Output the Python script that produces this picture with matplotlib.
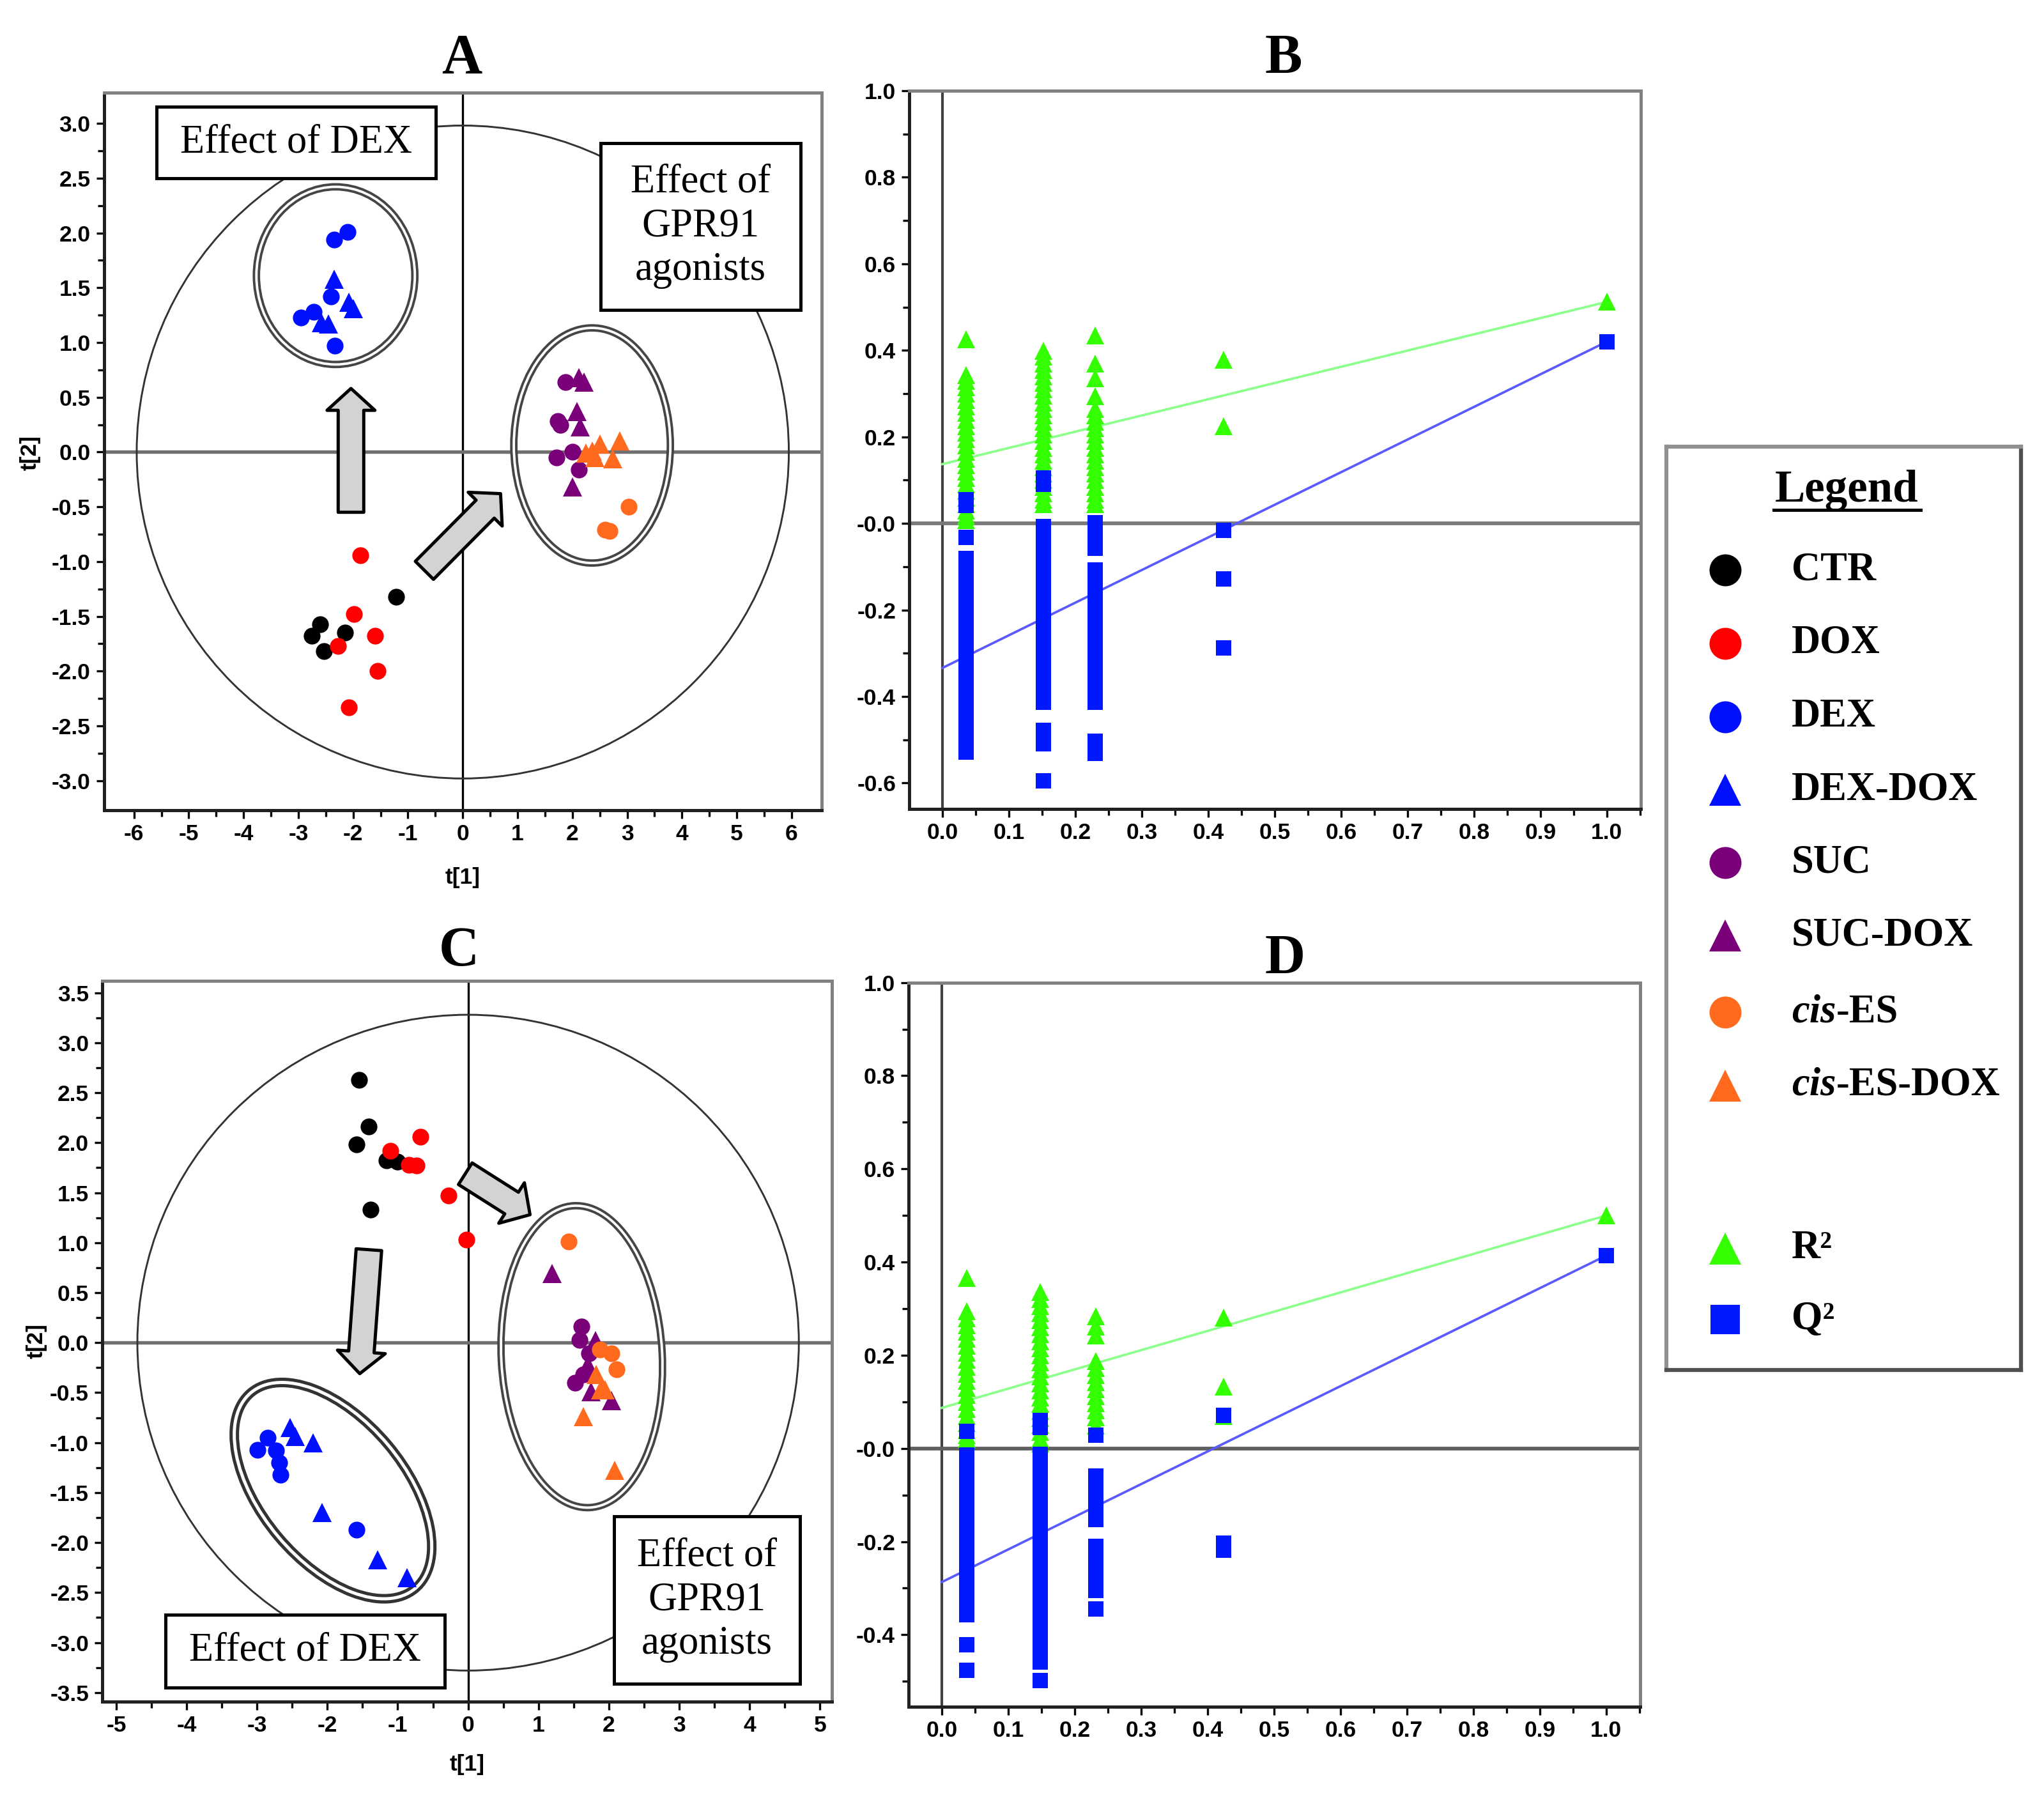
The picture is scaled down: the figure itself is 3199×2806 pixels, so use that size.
import matplotlib
matplotlib.use("Agg")
import matplotlib.pyplot as plt
import matplotlib.transforms as mtransforms
from matplotlib.patches import Ellipse, Rectangle

# ------------------------------
# DATA
# ------------------------------
# score plot A : t[1], t[2]
a_ctr_t1 = [-1.22, -2.60, -2.75, -2.15, -2.53]
a_ctr_t2 = [-1.32, -1.57, -1.68, -1.65, -1.82]
a_dox_t1 = [-1.87, -1.98, -1.60, -2.28, -1.55, -2.08]
a_dox_t2 = [-0.94, -1.48, -1.68, -1.77, -2.00, -2.33]
a_dex_t1 = [-2.10, -2.35, -2.41, -2.95, -2.72, -2.33]
a_dex_t2 = [2.01, 1.94, 1.42, 1.23, 1.28, 0.97]
a_dexdox_t1 = [-2.35, -2.08, -2.00, -2.58, -2.45]
a_dexdox_t2 = [1.58, 1.37, 1.31, 1.18, 1.17]
a_suc_t1 = [1.88, 1.73, 1.78, 1.71, 2.00, 2.12]
a_suc_t2 = [0.64, 0.28, 0.25, -0.05, 0.00, -0.16]
a_sucdox_t1 = [2.12, 2.21, 2.08, 2.14, 2.00]
a_sucdox_t2 = [0.68, 0.64, 0.37, 0.23, -0.32]
a_cis_t1 = [3.03, 2.60, 2.68]
a_cis_t2 = [-0.50, -0.71, -0.72]
a_cisdox_t1 = [2.25, 2.50, 2.41, 2.74, 2.87, 2.36]
a_cisdox_t2 = [-0.01, 0.07, -0.05, -0.06, 0.10, 0.01]

# score plot C : t[1], t[2]
c_ctr_t1 = [-1.55, -1.41, -1.59, -1.16, -1.00, -1.39]
c_ctr_t2 = [2.63, 2.16, 1.98, 1.82, 1.81, 1.33]
c_dox_t1 = [-0.68, -1.10, -0.84, -0.73, -0.28, -0.02]
c_dox_t2 = [2.06, 1.92, 1.78, 1.77, 1.47, 1.03]
c_dex_t1 = [-2.85, -2.99, -2.73, -2.68, -2.67, -1.59]
c_dex_t2 = [-0.95, -1.07, -1.08, -1.20, -1.32, -1.87]
c_dexdox_t1 = [-2.53, -2.46, -2.20, -2.08, -1.29, -0.87]
c_dexdox_t2 = [-0.85, -0.94, -1.00, -1.70, -2.17, -2.35]
c_suc_t1 = [1.61, 1.58, 1.72, 1.64, 1.52]
c_suc_t2 = [0.16, 0.03, -0.11, -0.32, -0.40]
c_sucdox_t1 = [1.19, 1.81, 1.75, 2.04, 1.70]
c_sucdox_t2 = [0.69, 0.02, -0.49, -0.58, -0.22]
c_cis_t1 = [1.43, 1.87, 2.04, 2.11]
c_cis_t2 = [1.01, -0.07, -0.11, -0.27]
c_cisdox_t1 = [1.82, 1.88, 1.64, 2.08, 1.95]
c_cisdox_t2 = [-0.32, -0.47, -0.74, -1.28, -0.47]

# permutation test B
b_perm_x = [0.036, 0.152, 0.230, 0.423, 1.0]
b_r2_1 = [0.426, 0.343, 0.33, 0.315, 0.30, 0.285, 0.27, 0.255, 0.24, 0.225, 0.21, 0.195, 0.18,
          0.165, 0.15, 0.135, 0.12, 0.105, 0.09, 0.075, 0.06, 0.045, 0.03, 0.018, 0.008]
b_r2_2 = [0.399, 0.385, 0.37, 0.355, 0.34, 0.325, 0.31, 0.295, 0.28, 0.265, 0.25, 0.235, 0.22,
          0.205, 0.19, 0.175, 0.16, 0.145, 0.13, 0.115, 0.10, 0.085, 0.07, 0.055, 0.045]
b_r2_3 = [0.435, 0.37, 0.336, 0.294, 0.265, 0.25, 0.235, 0.22, 0.205, 0.19, 0.175, 0.16, 0.145,
          0.13, 0.115, 0.10, 0.085, 0.07, 0.055, 0.045]
b_r2_4 = [0.378, 0.225]
b_r2_5 = [0.512]
b_q2_1 = [0.055, 0.042, -0.032, -0.081, -0.10, -0.12, -0.14, -0.16, -0.18, -0.20, -0.22, -0.24,
          -0.26, -0.28, -0.30, -0.32, -0.34, -0.36, -0.38, -0.40, -0.42, -0.44, -0.46, -0.48,
          -0.50, -0.515, -0.528]
b_q2_2 = [0.105, 0.09, -0.007, -0.027, -0.047, -0.067, -0.087, -0.107, -0.127, -0.147, -0.167,
          -0.187, -0.207, -0.227, -0.247, -0.267, -0.287, -0.307, -0.327, -0.347, -0.367, -0.387,
          -0.40, -0.414, -0.478, -0.495, -0.509, -0.595]
b_q2_3 = [0.001, -0.02, -0.04, -0.057, -0.108, -0.128, -0.148, -0.168, -0.188, -0.208, -0.228,
          -0.248, -0.268, -0.288, -0.308, -0.328, -0.348, -0.368, -0.388, -0.40, -0.414, -0.504,
          -0.518, -0.532]
b_q2_4 = [-0.016, -0.129, -0.288]
b_q2_5 = [0.42]
b_r2_intercept = 0.137
b_q2_intercept = -0.334

# permutation test D
d_perm_x = [0.038, 0.148, 0.232, 0.424, 1.0]
d_r2_1 = [0.366, 0.295, 0.28, 0.265, 0.25, 0.235, 0.22, 0.205, 0.19, 0.175, 0.16, 0.145, 0.13,
          0.115, 0.10, 0.085, 0.07, 0.055, 0.04, 0.028, 0.02]
d_r2_2 = [0.336, 0.32, 0.305, 0.29, 0.275, 0.26, 0.245, 0.23, 0.215, 0.20, 0.185, 0.17, 0.155,
          0.14, 0.125, 0.11, 0.095, 0.08, 0.065, 0.05, 0.035, 0.02, 0.01]
d_r2_3 = [0.284, 0.262, 0.243, 0.187, 0.172, 0.157, 0.142, 0.127, 0.112, 0.097, 0.082, 0.067, 0.049]
d_r2_4 = [0.281, 0.133, 0.07]
d_r2_5 = [0.50]
d_q2_1 = [0.036, -0.014, -0.034, -0.054, -0.074, -0.094, -0.114, -0.134, -0.154, -0.174, -0.194,
          -0.214, -0.234, -0.254, -0.274, -0.294, -0.314, -0.334, -0.357, -0.422, -0.476]
d_q2_2 = [0.06, 0.045, -0.013, -0.033, -0.053, -0.073, -0.093, -0.113, -0.133, -0.153, -0.173,
          -0.193, -0.213, -0.233, -0.253, -0.273, -0.293, -0.313, -0.333, -0.353, -0.373, -0.393,
          -0.413, -0.433, -0.459, -0.498]
d_q2_3 = [0.029, -0.059, -0.08, -0.10, -0.12, -0.137, -0.152, -0.21, -0.23, -0.25, -0.27, -0.29,
          -0.305, -0.345]
d_q2_4 = [0.071, -0.203, -0.218]
d_q2_5 = [0.414]
d_r2_intercept = 0.087
d_q2_intercept = -0.287

# tick labels
a_xticks = [-6, -5, -4, -3, -2, -1, 0, 1, 2, 3, 4, 5, 6]
a_yticks = [-3.0, -2.5, -2.0, -1.5, -1.0, -0.5, 0.0, 0.5, 1.0, 1.5, 2.0, 2.5, 3.0]
c_xticks = [-5, -4, -3, -2, -1, 0, 1, 2, 3, 4, 5]
c_yticks = [-3.5, -3.0, -2.5, -2.0, -1.5, -1.0, -0.5, 0.0, 0.5, 1.0, 1.5, 2.0, 2.5, 3.0, 3.5]
perm_xticks = [0.0, 0.1, 0.2, 0.3, 0.4, 0.5, 0.6, 0.7, 0.8, 0.9, 1.0]
b_yticks = [-0.6, -0.4, -0.2, 0.0, 0.2, 0.4, 0.6, 0.8, 1.0]
b_ylabels = ["-0.6", "-0.4", "-0.2", "-0.0", "0.2", "0.4", "0.6", "0.8", "1.0"]
d_yticks = [-0.4, -0.2, 0.0, 0.2, 0.4, 0.6, 0.8, 1.0]
d_ylabels = ["-0.4", "-0.2", "-0.0", "0.2", "0.4", "0.6", "0.8", "1.0"]

legend_labels = ["CTR", "DOX", "DEX", "DEX-DOX", "SUC", "SUC-DOX", "cis-ES", "cis-ES-DOX"]

# ------------------------------
# STYLE
# ------------------------------
BLACK = "#000000"
RED = "#ff0000"
BLUE = "#0010ff"
PURPLE = "#7a007a"
ORANGE = "#ff6a1f"
GREEN = "#33ff00"
SQBLUE = "#0018ff"
SERIF = ["Liberation Serif", "DejaVu Serif"]
DPI = 300

plt.rcParams["font.family"] = ["Liberation Sans", "DejaVu Sans"]
plt.rcParams["font.weight"] = "bold"
plt.rcParams["xtick.major.size"] = 3
plt.rcParams["ytick.major.size"] = 3
plt.rcParams["xtick.minor.size"] = 2.5
plt.rcParams["ytick.minor.size"] = 2.5
plt.rcParams["xtick.major.width"] = 0.8
plt.rcParams["ytick.major.width"] = 0.8
plt.rcParams["xtick.minor.width"] = 0.8
plt.rcParams["ytick.minor.width"] = 0.8
plt.rcParams["xtick.labelsize"] = 8.5
plt.rcParams["ytick.labelsize"] = 8.5

fig = plt.figure(figsize=(3199 / DPI, 2806 / DPI), dpi=DPI)

ax_a = fig.add_axes([0.0508, 0.5481, 0.3512, 0.4002])
ax_b = fig.add_axes([0.4448, 0.5488, 0.3579, 0.4006])
ax_c = fig.add_axes([0.0500, 0.0510, 0.3570, 0.4020])
ax_d = fig.add_axes([0.4445, 0.0480, 0.3579, 0.4040])


def frame(ax):
    for side in ["left", "bottom"]:
        ax.spines[side].set_color("#202020")
        ax.spines[side].set_linewidth(1.2)
    for side in ["top", "right"]:
        ax.spines[side].set_color("#808080")
        ax.spines[side].set_linewidth(1.2)
    ax.tick_params(which="both", direction="out", pad=2)


def pts(ax, xs, ys, color, marker):
    ms = 7 if marker == "^" else 6.3
    ax.plot(xs, ys, ls="none", marker=marker, ms=ms, mew=0, color=color, zorder=4)


def group_ellipse(ax, cx, cy, w_px, h_px, angle, lw_out, color):
    # ellipse sized in pixels, centred on a data point -> double outline
    trans = fig.dpi_scale_trans + mtransforms.ScaledTranslation(cx, cy, ax.transData)
    for lw, c in ((lw_out, color), (lw_out * 0.33, "white")):
        ax.add_patch(Ellipse((0, 0), w_px / DPI, h_px / DPI, angle=angle, fill=False,
                             lw=lw, ec=c, transform=trans, zorder=2))


def block_arrow(ax, tail, tip):
    ax.annotate("", xy=tip, xytext=tail,
                arrowprops=dict(arrowstyle="simple,head_length=0.82,head_width=1.8,tail_width=0.96",
                                mutation_scale=10, fc="#d3d3d3", ec="black", lw=1.2,
                                shrinkA=0, shrinkB=0), zorder=3)


def note_box(ax, x0, x1, y0, y1, text):
    ax.add_patch(Rectangle((x0, y0), x1 - x0, y1 - y0, fc="white", ec="black", lw=1.2, zorder=3))
    ax.text((x0 + x1) / 2, (y0 + y1) / 2, text, ha="center", va="center", family=SERIF,
            fontsize=15, fontweight="normal", linespacing=1.25, zorder=4)


def score_panel(ax, groups, xlim, ylim, xticks, yticks, hot_w, hot_h):
    frame(ax)
    ax.set_xlim(*xlim)
    ax.set_ylim(*ylim)
    ax.set_xticks(xticks)
    ax.set_xticklabels([str(t) for t in xticks])
    ax.set_yticks(yticks)
    ax.set_yticklabels(["%.1f" % t for t in yticks])
    ax.set_xticks([t + 0.5 for t in xticks[:-1]], minor=True)
    ax.set_yticks([t + 0.25 for t in yticks[:-1]], minor=True)
    ax.axvline(0, color="black", lw=0.8, zorder=1)
    ax.axhline(0, color="#707070", lw=1.3, zorder=1)
    ax.add_patch(Ellipse((0, 0), hot_w, hot_h, fill=False, ec="#333333", lw=0.7, zorder=1))
    for xs, ys, color, marker in groups:
        pts(ax, xs, ys, color, marker)


# ------------------------------
# PANEL A
# ------------------------------
score_panel(ax_a,
            [(a_ctr_t1, a_ctr_t2, BLACK, "o"), (a_dox_t1, a_dox_t2, RED, "o"),
             (a_dex_t1, a_dex_t2, BLUE, "o"), (a_dexdox_t1, a_dexdox_t2, BLUE, "^"),
             (a_suc_t1, a_suc_t2, PURPLE, "o"), (a_sucdox_t1, a_sucdox_t2, PURPLE, "^"),
             (a_cis_t1, a_cis_t2, ORANGE, "o"), (a_cisdox_t1, a_cisdox_t2, ORANGE, "^")],
            (-6.55, 6.55), (-3.27, 3.28), a_xticks, a_yticks, 11.9, 5.96)
group_ellipse(ax_a, -2.32, 1.61, 248, 278, 0, 2.8, "#454545")
group_ellipse(ax_a, 2.36, 0.06, 245, 368, 0, 2.8, "#454545")
block_arrow(ax_a, (-2.04, -0.55), (-2.04, 0.58))
block_arrow(ax_a, (-0.70, -1.08), (0.69, -0.38))
note_box(ax_a, -5.59, -0.49, 2.50, 3.15, "Effect of DEX")
note_box(ax_a, 2.52, 6.16, 1.30, 2.82, "Effect of\nGPR91\nagonists")
ax_a.text(0.5, -0.094, "t[1]", transform=ax_a.transAxes, ha="center", va="center", fontsize=8.5)
ax_a.text(-0.103, 0.498, "t[2]", transform=ax_a.transAxes, ha="center", va="center",
          rotation=90, fontsize=8.5)

# ------------------------------
# PANEL C
# ------------------------------
score_panel(ax_c,
            [(c_ctr_t1, c_ctr_t2, BLACK, "o"), (c_dox_t1, c_dox_t2, RED, "o"),
             (c_dex_t1, c_dex_t2, BLUE, "o"), (c_dexdox_t1, c_dexdox_t2, BLUE, "^"),
             (c_suc_t1, c_suc_t2, PURPLE, "o"), (c_sucdox_t1, c_sucdox_t2, PURPLE, "^"),
             (c_cis_t1, c_cis_t2, ORANGE, "o"), (c_cisdox_t1, c_cisdox_t2, ORANGE, "^")],
            (-5.2, 5.17), (-3.59, 3.62), c_xticks, c_yticks, 9.4, 6.56)
group_ellipse(ax_c, -1.92, -1.48, 400, 224, -50, 3.6, "#333333")
group_ellipse(ax_c, 1.615, -0.14, 252, 473, 3, 2.8, "#454545")
block_arrow(ax_c, (-1.41, 0.93), (-1.54, -0.31))
block_arrow(ax_c, (-0.04, 1.69), (0.88, 1.28))
note_box(ax_c, -4.30, -0.33, -3.45, -2.72, "Effect of DEX")
note_box(ax_c, 2.07, 4.72, -3.41, -1.74, "Effect of\nGPR91\nagonists")
ax_c.text(0.5, -0.087, "t[1]", transform=ax_c.transAxes, ha="center", va="center", fontsize=8.5)
ax_c.text(-0.090, 0.5, "t[2]", transform=ax_c.transAxes, ha="center", va="center",
          rotation=90, fontsize=8.5)


# ------------------------------
# PERMUTATION PANELS B, D
# ------------------------------
def perm_panel(ax, xs, r2_cols, q2_cols, r2_0, q2_0, ylim, yticks, ylabels, hline_color):
    frame(ax)
    ax.set_xlim(-0.05, 1.051)
    ax.set_xticks(perm_xticks)
    ax.set_xticklabels(["%.1f" % t for t in perm_xticks])
    ax.set_xticks([t + 0.05 for t in perm_xticks[:-1]] + [1.05], minor=True)
    ax.set_yticks(yticks)
    ax.set_yticklabels(ylabels)
    ax.set_yticks([t + 0.1 for t in yticks[:-1]] + [yticks[0] - 0.1], minor=True)
    ax.set_ylim(*ylim)
    ax.axvline(0, color="#404040", lw=1.0, zorder=1)
    ax.axhline(0, color=hline_color, lw=1.4, zorder=1)
    # regression lines through the permutation points
    ax.plot([0, xs[-1]], [r2_0, r2_cols[-1][0]], color="#8cff8c", lw=0.9, zorder=2)
    ax.plot([0, xs[-1]], [q2_0, q2_cols[-1][0]], color="#5a5aff", lw=0.9, zorder=2)
    for x, vals in zip(xs, r2_cols):
        ax.plot([x] * len(vals), vals, ls="none", marker="^", ms=6.8, mew=0, color=GREEN, zorder=3)
    for x, vals in zip(xs, q2_cols):
        ax.plot([x] * len(vals), vals, ls="none", marker="s", ms=5.8, mew=0, color=SQBLUE, zorder=4)


perm_panel(ax_b, b_perm_x, [b_r2_1, b_r2_2, b_r2_3, b_r2_4, b_r2_5],
           [b_q2_1, b_q2_2, b_q2_3, b_q2_4, b_q2_5], b_r2_intercept, b_q2_intercept,
           (-0.66, 1.0), b_yticks, b_ylabels, "#7a7a7a")
perm_panel(ax_d, d_perm_x, [d_r2_1, d_r2_2, d_r2_3, d_r2_4, d_r2_5],
           [d_q2_1, d_q2_2, d_q2_3, d_q2_4, d_q2_5], d_r2_intercept, d_q2_intercept,
           (-0.555, 1.0), d_yticks, d_ylabels, "#606060")

# panel letters
for x, y, letter in [(0.226, 0.967, "A"), (0.628, 0.967, "B"), (0.2245, 0.469, "C"), (0.6285, 0.465, "D")]:
    fig.text(x, y, letter, ha="center", va="center", family=SERIF, fontsize=21, fontweight="bold")

# ------------------------------
# LEGEND (own axes, pixel units)
# ------------------------------
lax = fig.add_axes([2608 / 3199, 1 - 2144 / 2806, 555 / 3199, 1445 / 2806])
lax.set_xlim(2608, 3163)
lax.set_ylim(2144, 699)
lax.set_xticks([])
lax.set_yticks([])
for side in ["left", "top"]:
    lax.spines[side].set_color("#909090")
    lax.spines[side].set_linewidth(1.5)
for side in ["right", "bottom"]:
    lax.spines[side].set_color("#505050")
    lax.spines[side].set_linewidth(1.5)

lax.text(2890, 767, "Legend", ha="center", va="center", family=SERIF, fontsize=17, fontweight="bold")
lax.plot([2776, 3006], [798, 798], color="black", lw=1.2)

leg_colors = [BLACK, RED, BLUE, BLUE, PURPLE, PURPLE, ORANGE, ORANGE]
leg_markers = ["o", "o", "o", "^", "o", "^", "o", "^"]
leg_rows = [892, 1007, 1122, 1236, 1350, 1464, 1584, 1699]
for label, color, marker, y in zip(legend_labels, leg_colors, leg_markers, leg_rows):
    lax.plot([2700], [y], ls="none", marker=marker, ms=12, mew=0, color=color)
    if label.startswith("cis"):
        t = lax.text(2804, y, "cis", ha="left", va="center", family=SERIF, fontsize=15,
                     fontweight="bold", fontstyle="italic")
        lax.annotate(label[3:], xy=(1, 0), xycoords=t, ha="left", va="bottom", family=SERIF,
                     fontsize=15, fontweight="bold")
    else:
        lax.text(2804, y, label, ha="left", va="center", family=SERIF, fontsize=15, fontweight="bold")

lax.plot([2700], [1954], ls="none", marker="^", ms=12, mew=0, color=GREEN)
lax.text(2804, 1954, "R\u00b2", ha="left", va="center", family=SERIF, fontsize=15, fontweight="bold")
lax.plot([2700], [2065], ls="none", marker="s", ms=11, mew=0, color=SQBLUE)
lax.text(2804, 2065, "Q\u00b2", ha="left", va="center", family=SERIF, fontsize=15, fontweight="bold")

fig.savefig("out.png", dpi=DPI)
